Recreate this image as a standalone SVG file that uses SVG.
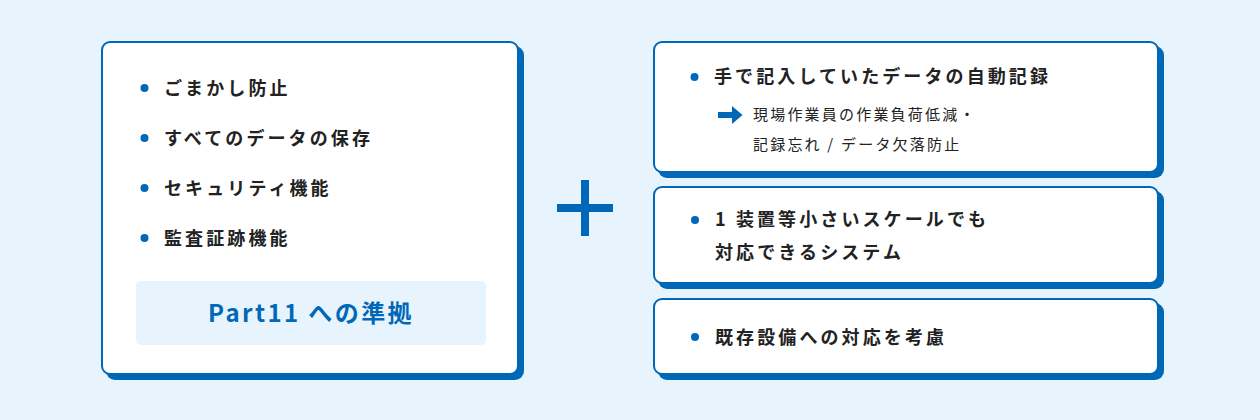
<svg xmlns="http://www.w3.org/2000/svg" width="1260" height="420" viewBox="0 0 1260 420">
  <style>
    .shadow { fill: #0068b7; }
    .card { fill: #ffffff; stroke: #0068b7; stroke-width: 2; }
    .dot { fill: #0068b7; }
    .item { font-family: "Noto Sans CJK JP", "Noto Sans", sans-serif; font-size: 18px; font-weight: 700; fill: #222222; letter-spacing: 3.1px; }
    .sub { font-family: "Noto Sans CJK JP", "Noto Sans", sans-serif; font-size: 15px; font-weight: 400; fill: #222222; letter-spacing: 2.2px; }
    .badge { font-family: "Noto Sans CJK JP", "Noto Sans", sans-serif; font-size: 24px; font-weight: 700; fill: #0068b7; letter-spacing: 2.4px; }
  </style>
  <rect x="0" y="0" width="1260" height="420" fill="#e8f4fd"/>

  <g id="left-card">
    <rect class="shadow" x="106" y="46" width="418" height="334" rx="9"/>
    <rect class="card" x="102" y="42" width="416" height="332" rx="8"/>
    <circle class="dot" cx="144.5" cy="88" r="4"/>
    <text class="item" x="164" y="95">ごまかし防止</text>
    <circle class="dot" cx="144.5" cy="138" r="4"/>
    <text class="item" x="164" y="145">すべてのデータの保存</text>
    <circle class="dot" cx="144.5" cy="188" r="4"/>
    <text class="item" x="164" y="195">セキュリティ機能</text>
    <circle class="dot" cx="144.5" cy="238" r="4"/>
    <text class="item" x="164" y="245">監査証跡機能</text>
    <g id="part11">
      <rect x="136" y="281" width="350" height="64" rx="5" fill="#e8f4fd"/>
      <text class="badge" x="311" y="322" text-anchor="middle">Part11 への準拠</text>
    </g>
  </g>

  <g id="plus">
    <rect x="557" y="204" width="56" height="8" fill="#0068b7"/>
    <rect x="581" y="180" width="8" height="56" fill="#0068b7"/>
  </g>

  <g id="card-auto-record">
    <rect class="shadow" x="658" y="46" width="506" height="132" rx="9"/>
    <rect class="card" x="654" y="42" width="504" height="130" rx="8"/>
    <circle class="dot" cx="694.5" cy="77" r="4"/>
    <text class="item" x="714" y="83">手で記入していたデータの自動記録</text>
    <path d="M718 112 H732 V106 L742.5 115 L732 124 V118 H718 Z" fill="#0068b7"/>
    <text class="sub" x="753" y="120">現場作業員の作業負荷低減・</text>
    <text class="sub" x="753" y="150">記録忘れ / データ欠落防止</text>
  </g>

  <g id="card-small-scale">
    <rect class="shadow" x="658" y="191" width="506" height="98" rx="9"/>
    <rect class="card" x="654" y="187" width="504" height="96" rx="8"/>
    <circle class="dot" cx="695" cy="220" r="4"/>
    <text class="item" x="715" y="226">1 装置等小さいスケールでも</text>
    <text class="item" x="715" y="259">対応できるシステム</text>
  </g>

  <g id="card-existing">
    <rect class="shadow" x="658" y="303" width="506" height="77" rx="9"/>
    <rect class="card" x="654" y="299" width="504" height="75" rx="8"/>
    <circle class="dot" cx="695" cy="337" r="4"/>
    <text class="item" x="715" y="344">既存設備への対応を考慮</text>
  </g>

  <g id="connectors"></g>
</svg>
